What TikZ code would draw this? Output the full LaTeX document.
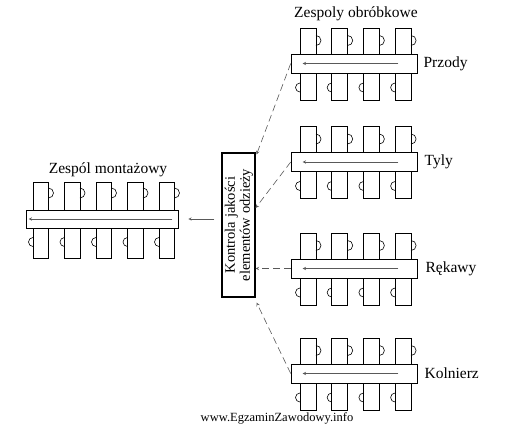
\documentclass[tikz,border=0pt]{standalone}
\usepackage{fontspec}
\setmainfont{Liberation Serif}
\usetikzlibrary{arrows,%
                shapes,positioning}

\tikzset{
  tasma/.style={draw, fill=white, inner sep=0pt},
  etykieta/.style={inner sep=0pt, anchor=west},
  przeplyw/.style={gray!70!black, line width=0.5pt, -stealth},
  kontrolny/.style={gray!70!black, line width=0.6pt, dash pattern=on 7pt off 4pt, -stealth}
}

\begin{document}
\begin{tikzpicture}[x=1pt,y=-1pt,line width=0.6pt,
  font=\fontsize{15.5}{16}\selectfont]
\useasboundingbox (0,0) rectangle (523,424);

% stanowiska zespolow obrobkowych
\foreach \c in {63.5,162,268.5,373.5}{
  \foreach \i in {0,...,3}{
    \draw (300+31.7*\i,\c-35.5) rectangle (316+31.7*\i,\c+36.5);
    \draw (316+31.7*\i,\c-28) arc[start angle=90,end angle=-90,radius=5pt];
    \draw (300+31.7*\i,\c+19.5) arc[start angle=90,end angle=270,radius=4.5pt];
  }
}
% stanowiska zespolu montazowego
\foreach \i in {0,...,4}{
  \draw (33+31.5*\i,182) rectangle (48.5+31.5*\i,258);
  \draw (48.5+31.5*\i,188) arc[start angle=90,end angle=-90,radius=5pt];
  \draw (33+31.5*\i,237.5) arc[start angle=90,end angle=270,radius=4.5pt];
}

% tasmy
\node[tasma, minimum width=126pt, minimum height=19pt] (przody) at (354,63.5) {};
\node[tasma, minimum width=126pt, minimum height=19pt] (tyly) at (354,162) {};
\node[tasma, minimum width=126pt, minimum height=19pt] (rekawy) at (354,268.5) {};
\node[tasma, minimum width=126pt, minimum height=19pt] (kolnierz) at (354,373.5) {};
\node[tasma, minimum width=152pt, minimum height=18pt] (montaz) at (102,219) {};

\foreach \t in {przody,tyly,rekawy,kolnierz}
  \draw[przeplyw] ([xshift=-19pt]\t.east) -- ([xshift=12pt]\t.west);
\draw[przeplyw] ([xshift=-6pt]montaz.east) -- ([xshift=3pt]montaz.west);

% napisy
\node[etykieta, right=6pt of przody] {Przody};
\node[etykieta, right=7pt of tyly] {Tyly};
\node[etykieta, right=8pt of rekawy] {Rękawy};
\node[etykieta, right=7pt of kolnierz] {Kolnierz};
\node (obrobka) at (356,14) {Zespoly obróbkowe};
\node (montowanie) at (108,170) {Zespól montażowy};

% kontrola
\node[draw, line width=1.1pt, minimum width=33pt, minimum height=144pt,
  inner sep=0pt] (kontrola) at (238.5,225) {};
\node[rotate=90, align=center, inner sep=0pt,
  font=\fontsize{14.5}{15}\selectfont] (opis) at ([xshift=0.5pt]kontrola.center)
  {Kontrola jakości\\elementów odzieży};

\draw[kontrolny] (przody.west) -- ([shift={(1pt,-2pt)}]kontrola.north east);
\draw[kontrolny] (tyly.west) -- ([yshift=17pt]kontrola.east);
\draw[kontrolny] (rekawy.west) -- (rekawy.west -| kontrola.east);
\draw[kontrolny] (kolnierz.west) -- ([shift={(1pt,-5pt)}]kontrola.south east);
\draw[przeplyw, shorten <=7pt, shorten >=10pt] (montaz.east -| kontrola.west) -- (montaz.east);

\node (zrodlo) at (277,418) {\fontsize{12.5}{13}\selectfont www.EgzaminZawodowy.info};
\end{tikzpicture}
\end{document}
